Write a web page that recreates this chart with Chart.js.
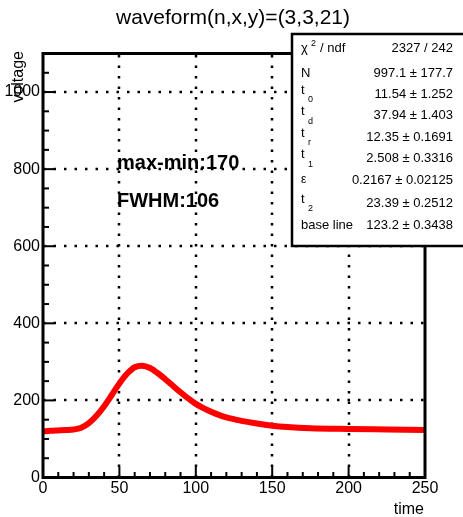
<!DOCTYPE html>
<html>
<head>
<meta charset="utf-8">
<script src="https://cdn.jsdelivr.net/npm/chart.js@4"></script>
<style>
  html, body { margin: 0; padding: 0; background: #fff; }
</style>
</head>
<body>
<canvas id="waveChart" width="463" height="517"></canvas>
<script>
// Fit curve
const timeVals = [0, 5, 10, 15, 20, 25, 30, 35, 40, 45, 50, 55, 60, 65, 70, 75, 80, 85, 90, 95, 100, 105, 110, 115, 120, 130, 140, 150, 160, 175, 200, 225, 250];
const fitVals = [119.5, 121, 122, 123, 124.5, 129, 141, 160, 185, 214, 244, 269, 286, 290, 284, 271, 255, 238, 221, 205, 191, 180, 170.5, 162.5, 156, 147, 140, 134.5, 131, 128, 126, 124.5, 123];

const xTicks = [0, 50, 100, 150, 200, 250];
const yTicks = [0, 200, 400, 600, 800, 1000];

const statNames = ["N", "t|0", "t|d", "t|r", "t|1", "ε", "t|2", "base line"];
const statValues = ["997.1 ± 177.7", "11.54 ± 1.252", "37.94 ± 1.403", "12.35 ± 0.1691", "2.508 ± 0.3316", "0.2167 ± 0.02125", "23.39 ± 0.2512", "123.2 ± 0.3438"];
const chiText = "2327 / 242";

const FONT = '"Liberation Sans", Arial, sans-serif';

function line(ctx, x1, y1, x2, y2) {
  ctx.beginPath();
  ctx.moveTo(x1, y1);
  ctx.lineTo(x2, y2);
  ctx.stroke();
}

const rootStyle = {
  id: "rootStyle",
  beforeDatasetsDraw(chart) {
    const { ctx, chartArea: a, scales: { x, y } } = chart;
    ctx.save();
    // dotted grid
    ctx.strokeStyle = "#000";
    ctx.lineWidth = 2.5;
    ctx.setLineDash([2.5, 8]);
    xTicks.slice(1, -1).forEach(v => {
      const px = Math.round(x.getPixelForValue(v));
      line(ctx, px, a.bottom, px, a.top);
    });
    yTicks.slice(1).forEach(v => {
      const py = Math.round(y.getPixelForValue(v));
      line(ctx, a.left, py, a.right, py);
    });
    ctx.restore();
  },
  afterDatasetsDraw(chart) {
    const { ctx, chartArea: a, scales: { x, y } } = chart;
    ctx.save();
    ctx.strokeStyle = "#000";
    ctx.fillStyle = "#000";

    // ticks
    ctx.lineWidth = 2;
    for (let v = 0; v <= 250; v += 10) {
      const px = x.getPixelForValue(v);
      line(ctx, px, a.bottom, px, a.bottom - (v % 50 === 0 ? 11 : 5.5));
    }
    for (let v = 0; v <= 1100; v += 50) {
      const py = y.getPixelForValue(v);
      line(ctx, a.left, py, a.left + (v % 200 === 0 ? 11 : 6), py);
    }

    // frame
    ctx.lineWidth = 3;
    ctx.strokeRect(a.left, a.top, a.right - a.left, a.bottom - a.top);

    // tick labels
    ctx.font = "16px " + FONT;
    ctx.textAlign = "center";
    ctx.textBaseline = "top";
    xTicks.forEach(v => ctx.fillText(String(v), x.getPixelForValue(v), a.bottom + 3));
    ctx.textAlign = "right";
    ctx.textBaseline = "middle";
    yTicks.forEach(v => ctx.fillText(String(v), a.left - 3, y.getPixelForValue(v)));

    // axis titles
    ctx.textAlign = "right";
    ctx.textBaseline = "alphabetic";
    ctx.fillText("time", a.right - 1, 514);
    ctx.save();
    ctx.translate(23, 51);
    ctx.rotate(-Math.PI / 2);
    ctx.fillText("voltage", 0, 0);
    ctx.restore();

    // main title
    ctx.font = "21px " + FONT;
    ctx.textAlign = "center";
    ctx.textBaseline = "middle";
    ctx.fillText("waveform(n,x,y)=(3,3,21)", 233, 18);

    // annotations
    ctx.font = "bold 20px " + FONT;
    ctx.textAlign = "left";
    ctx.fillText("max-min:170", 117, 163);
    ctx.fillText("FWHM:106", 117, 201);

    // stats box
    ctx.fillStyle = "#fff";
    ctx.fillRect(292, 34, 175, 212);
    ctx.lineWidth = 2.5;
    ctx.strokeRect(292, 34, 175, 212);
    ctx.fillStyle = "#000";
    ctx.font = "13px " + FONT;
    ctx.textBaseline = "middle";
    ctx.textAlign = "left";
    ctx.fillText("χ", 301, 48);
    ctx.font = "9px " + FONT;
    ctx.fillText("2", 311, 44);
    ctx.font = "13px " + FONT;
    ctx.fillText("/ ndf", 320, 48);
    ctx.textAlign = "right";
    ctx.fillText(chiText, 453, 48);

    const rowY = [73, 94, 115.5, 137, 158.5, 180, 203, 225];
    statNames.forEach((n, i) => {
      const ry = rowY[i];
      ctx.textAlign = "left";
      if (n.includes("|")) {
        const [base, sub] = n.split("|");
        ctx.font = "13px " + FONT;
        ctx.fillText(base, 301, ry - 4);
        ctx.font = "9px " + FONT;
        ctx.fillText(sub, 308, ry + 6);
      } else {
        ctx.font = (n === "ε" ? "12px " : "13px ") + FONT;
        ctx.fillText(n, 301, ry);
      }
      ctx.font = "13px " + FONT;
      ctx.textAlign = "right";
      ctx.fillText(statValues[i], 453, ry);
    });
    ctx.restore();
  }
};

new Chart(document.getElementById("waveChart").getContext("2d"), {
  type: "line",
  data: {
    labels: timeVals,
    datasets: [{
      label: "fit",
      data: timeVals.map((t, i) => ({ x: t, y: fitVals[i] })),
      borderColor: "#ff0000",
      borderWidth: 6,
      pointRadius: 0,
      fill: false,
      cubicInterpolationMode: "monotone",
      borderCapStyle: "round"
    }]
  },
  options: {
    responsive: false,
    animation: false,
    devicePixelRatio: 1,
    layout: { padding: { left: 43, right: 38, top: 53.5, bottom: 39.5 } },
    plugins: { legend: { display: false }, tooltip: { enabled: false } },
    scales: {
      x: { type: "linear", min: 0, max: 250, display: false },
      y: { type: "linear", min: 0, max: 1100, display: false }
    }
  },
  plugins: [rootStyle]
});
</script>
</body>
</html>
